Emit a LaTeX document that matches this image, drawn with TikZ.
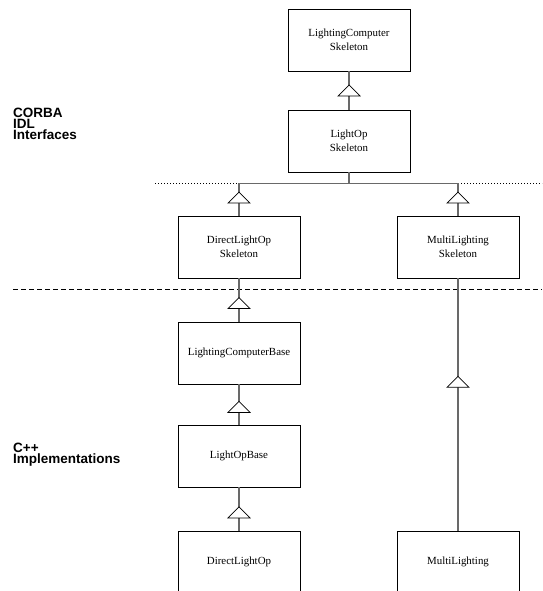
\documentclass[tikz,border=0pt]{standalone}
\usepackage{fontspec}
\setmainfont{Liberation Serif}
\newfontfamily\labelfont{Liberation Sans}
\usetikzlibrary{decorations.markings}
\definecolor{linegray}{RGB}{105,105,105}
\begin{document}
\begin{tikzpicture}[x=1pt,y=-1pt,
  box/.style={draw=black, line width=0.9pt, minimum width=122pt, minimum height=62pt, inner sep=0pt, align=center, font=\fontsize{10.9}{13.5}\selectfont},
  conn/.style={draw=linegray, line width=1.2pt},
  gen/.style={conn, postaction={decorate}, decoration={markings, mark=at position #1 with {\draw[black, line width=0.7pt, fill=white] (5.5pt,0pt) -- (-5.5pt,11pt) -- (-5.5pt,-11pt) -- cycle;}}},
  gen/.default=0.5,
  side/.style={anchor=north west, inner sep=0pt, align=left, font=\labelfont\fontsize{13.5}{10.8}\selectfont\bfseries},
  dotsep/.style={draw=black, line width=0.6pt, dash pattern=on 1pt off 2pt},
  dashsep/.style={draw=black, line width=0.8pt, dash pattern=on 4.5pt off 3.5pt}
]
\useasboundingbox (0,0) rectangle (542,591);

% separators
\draw[dotsep] (155,183) -- (542,183);
\draw[dashsep] (13,289) -- (542,289);

% side labels
\node[side] (corba) at (13,108) {CORBA\\IDL\\Interfaces};
\node[side] (cpp) at (13,443) {C++\\Implementations};

% boxes
\node[box] (lcs) at (349,40) {LightingComputer\\Skeleton};
\node[box] (los) at (349,141) {LightOp\\Skeleton};
\node[box] (dlos) at (239,247) {DirectLightOp\\Skeleton};
\node[box] (mls) at (458,247) {MultiLighting\\Skeleton};
\node[box] (lcb) at (239,353) {LightingComputerBase};
\node[box] (lob) at (239,456) {LightOpBase};
\node[box] (dlo) at (239,562) {DirectLightOp};
\node[box] (ml) at (458,562) {MultiLighting};

% connectors
\draw[gen=0.5] (los.north) -- (lcs.south);
\path (los.south) ++(0,11) coordinate (j);
\draw[conn] (los.south) -- (j);
\draw[conn] (dlos.north |- j) -- (mls.north |- j);
\draw[gen=0.56] (dlos.north) -- (dlos.north |- j);
\draw[gen=0.56] (mls.north) -- (mls.north |- j);
\draw[gen=0.43] (lcb.north) -- (dlos.south);
\draw[gen=0.44] (lob.north) -- (lcb.south);
\draw[gen=0.42] (dlo.north) -- (lob.south);
\draw[gen=0.59] (ml.north) -- (mls.south);
\end{tikzpicture}
\end{document}
